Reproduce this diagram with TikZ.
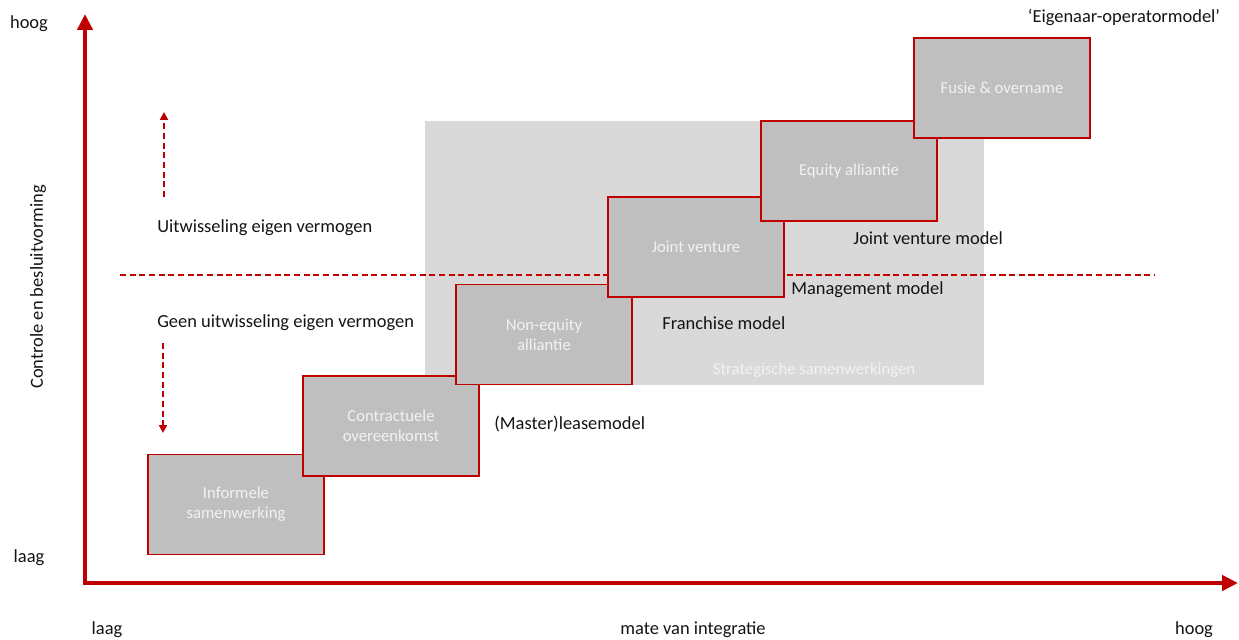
\documentclass[tikz,border=0pt]{standalone}
\usepackage{fontspec}
\setmainfont{Carlito}
\usetikzlibrary{arrows.meta}
\definecolor{axisred}{HTML}{C00000}
\definecolor{boxgrey}{HTML}{BFBFBF}
\definecolor{areagrey}{HTML}{D9D9D9}
\definecolor{paletext}{HTML}{F2F2F2}

\begin{document}
\begin{tikzpicture}[
		x=0.02cm,
		y=-0.02cm,
		axis/.style={
			draw=axisred,
			line width=2.3pt,
			line join=miter,
			arrows={Triangle[length=9pt,width=8.5pt]-Triangle[length=9pt,width=8.5pt]}
		},
		split/.style={
			draw=axisred,
			line width=1.1pt,
			dash pattern=on 3.5pt off 2pt
		},
		hint/.style={
			split,
			-{Triangle[length=4.5pt,width=4.5pt]}
		},
		area/.style={
			fill=areagrey,
			minimum width=11.18cm,
			minimum height=5.28cm,
			inner sep=0pt
		},
		stage/.style={
			draw=axisred,
			fill=boxgrey,
			line width=0.9pt,
			minimum width=3.52cm,
			minimum height=2cm,
			inner sep=0pt,
			align=center,
			text=paletext,
			font=\fontsize{9.5}{11.5}\selectfont
		},
		model/.style={
			anchor=west,
			inner sep=0pt,
			yshift=-1.1pt,
			text=black!92,
			font=\fontsize{10.5}{12.6}\selectfont
		},
		plain/.style={
			inner sep=0pt,
			yshift=-1.1pt,
			text=black!92,
			font=\fontsize{10.5}{12.6}\selectfont
		}
		]
		\useasboundingbox (0,0) rectangle (1239,639);
		% grey field
		\node[area] (strategisch) at (704.5,253) {};
		\node[text=paletext,font=\fontsize{9.5}{11.5}\selectfont] (strategischlabel) at (814,370) {Strategische samenwerkingen};
		% border between equity and no equity
		\coordinate (splitleft) at (120,275);
		\coordinate (splitright) at (1155,275);
		\draw[split] (splitleft) -- (splitright);
		\coordinate (upfrom) at (164,197);
		\coordinate (upto) at (164,112);
		\coordinate (downfrom) at (163,343);
		\coordinate (downto) at (163,433);
		\draw[hint] (upfrom) -- (upto);
		\draw[hint] (downfrom) -- (downto);
		\node[model] (equitytext) at (157,226) {Uitwisseling eigen vermogen};
		\node[model] (noequitytext) at (157,321) {Geen uitwisseling eigen vermogen};
		% the steps
		\node[stage] (informeel) at (236,504.5) {Informele\\samenwerking};
		\node[stage] (contract) at (391,426) {Contractuele\\overeenkomst};
		\node[stage] (nonequity) at (544,334.5) {Non-equity\\alliantie};
		\node[stage] (jv) at (696,247) {Joint venture};
		\node[stage] (equity) at (849,171) {Equity alliantie};
		\node[stage] (fusie) at (1002,88) {Fusie \& overname};
		% models
		\node[model] (lease) at (494,422) {(Master)leasemodel};
		\node[model] (franchise) at (662,321) {Franchise model};
		\node[model] (management) at (791,288) {Management model};
		\node[model] (jvmodel) at (853,236) {Joint venture model};
		\node[plain] (eigenaar) at (1124,15) {‘Eigenaar-operatormodel’};
		% axes
		\coordinate (ytop) at (85,14);
		\coordinate (origin) at (85,583);
		\coordinate (xend) at (1238,583);
		\draw[axis] (ytop) -- (origin) -- (xend);
		\node[plain] (yhigh) at (29,22) {hoog};
		\node[plain] (ylow) at (29,556) {laag};
		\node[plain,rotate=90,yshift=1.1pt,xshift=-1.1pt] (ytitle) at (40,283) {Controle en besluitvorming};
		\node[plain] (xlow) at (107,628) {laag};
		\node[plain] (xtitle) at (693,628) {mate van integratie};
		\node[plain] (xhigh) at (1194,628) {hoog};
\end{tikzpicture}
\end{document}
